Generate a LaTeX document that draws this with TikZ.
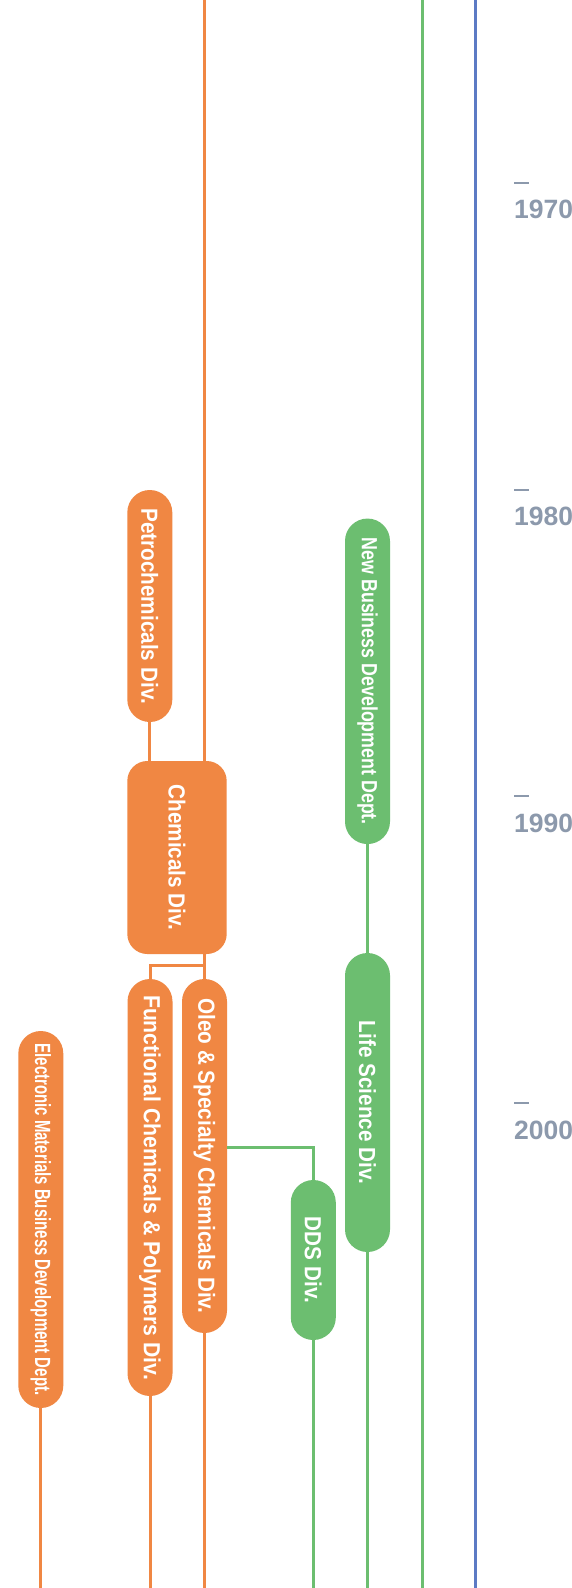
\documentclass[tikz,border=0pt]{standalone}
\usepackage{fontspec}
\setmainfont{Liberation Sans}
\usepackage{graphicx}
\definecolor{divorange}{RGB}{240,135,67}
\definecolor{divgreen}{RGB}{108,190,112}
\definecolor{divblue}{RGB}{92,122,196}
\definecolor{yeargray}{RGB}{140,153,172}
% vertical label: horizontal squeeze, font size, text
\newcommand{\vtxt}[3]{\rotatebox{-90}{\scalebox{#1}[1]{\fontsize{#2}{#2}\selectfont\bfseries #3}}}
\begin{document}
\begin{tikzpicture}[x=1pt,y=-1pt,
  pill/.style={fill=#1, draw=none, rounded corners=22.5pt, minimum width=45pt,
               inner sep=0pt, text=white},
  opill/.style={pill=divorange},
  gpill/.style={pill=divgreen},
  link/.style={draw=#1, line width=3pt},
  olink/.style={link=divorange},
  glink/.style={link=divgreen},
  blink/.style={link=divblue},
  yeartick/.style={draw=yeargray, line width=2pt},
  yearlabel/.style={anchor=west, inner sep=0pt, text=yeargray,
                    font=\fontsize{26.5}{26.5}\selectfont\bfseries}
]
\useasboundingbox (0,0) rectangle (572,1588);
\fill[white] (0,0) rectangle (572,1588);

% divisions
\node[opill, minimum height=232pt] (petro) at (149.8,606) {\vtxt{0.89}{23.3}{Petrochemicals Div.}};
\node[pill=divorange, minimum width=99.4pt, minimum height=193pt, rounded corners=20pt] (chem) at (177,857.5) {\vtxt{0.89}{23.3}{Chemicals Div.}};
\node[opill, minimum height=417pt] (func) at (150,1187.5) {\vtxt{0.91}{23.3}{Functional Chemicals \& Polymers Div.}};
\node[opill, minimum height=354pt] (oleo) at (204.5,1156) {\vtxt{0.89}{23.3}{Oleo \& Specialty Chemicals Div.}};
\node[opill, minimum height=377pt] (elec) at (40.8,1219.5) {\vtxt{0.68}{22}{Electronic Materials Business Development Dept.}};
\node[gpill, minimum height=160pt] (dds) at (313.3,1260) {\vtxt{0.89}{23.3}{DDS Div.}};
\node[gpill, minimum height=325.5pt] (nbd) at (367.5,681.3) {\vtxt{0.81}{22}{New Business Development Dept.}};
\node[gpill, minimum height=299pt] (life) at (367.5,1102.5) {\vtxt{0.89}{23.3}{Life Science Div.}};

% free ends of the lines at the edges
\coordinate (top) at (0,-2);
\coordinate (bottom) at (0,1590);
\coordinate (chemin) at (204.5,-2);
\coordinate (split) at (204.5,965);
\coordinate (ddsbranch) at (227,1147);
\coordinate (greentop) at (422,-2);
\coordinate (bluetop) at (475,-2);

% orange lineage
\draw[olink] (chemin) -- (chemin |- chem.north);
\draw[olink] (petro.south) -- (petro.south |- chem.north);
\draw[olink] (split |- chem.south) -- (oleo.north);
\draw[olink] (func.north) |- (split);
\draw[olink] (oleo.south) -- (oleo.south |- bottom);
\draw[olink] (func.south) -- (func.south |- bottom);
\draw[olink] (elec.south) -- (elec.south |- bottom);

% green lineage
\draw[glink] (ddsbranch) -| (dds.north);
\draw[glink] (dds.south) -- (dds.south |- bottom);
\draw[glink] (nbd.south) -- (life.north);
\draw[glink] (life.south) -- (life.south |- bottom);
\draw[glink] (greentop) -- (greentop |- bottom);

% blue lineage
\draw[blink] (bluetop) -- (bluetop |- bottom);

% decade marks
\draw[yeartick] (514,183) -- (529,183);
\node[yearlabel] (y1970) at (514,209.7) {1970};
\draw[yeartick] (514,489.7) -- (529,489.7);
\node[yearlabel] (y1980) at (514,516.4) {1980};
\draw[yeartick] (514,796.3) -- (529,796.3);
\node[yearlabel] (y1990) at (514,823) {1990};
\draw[yeartick] (514,1103.3) -- (529,1103.3);
\node[yearlabel] (y2000) at (514,1130) {2000};
\end{tikzpicture}
\end{document}
